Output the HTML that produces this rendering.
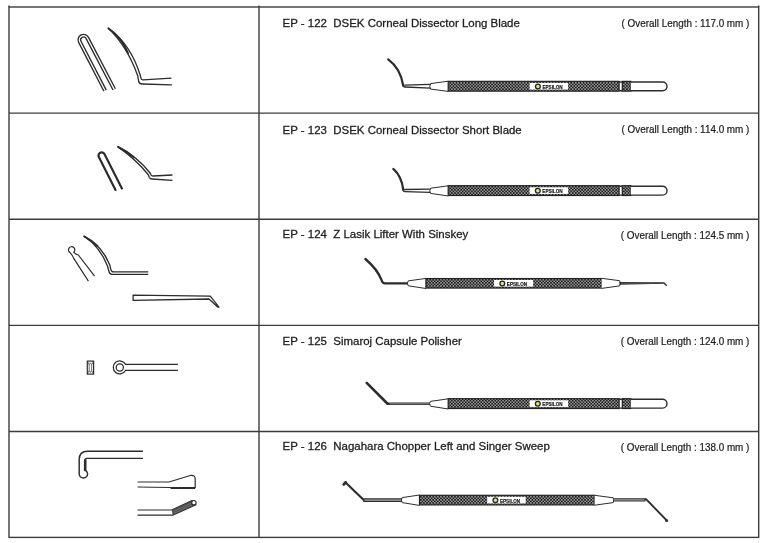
<!DOCTYPE html>
<html><head><meta charset="utf-8"><style>
html,body{margin:0;padding:0;background:#fff;}
body{width:768px;height:543px;overflow:hidden;position:relative}
svg{position:absolute;left:0;top:0;display:block;filter:blur(0.3px)}
text{font-family:"Liberation Sans",sans-serif}
</style></head><body>
<svg width="768" height="543" viewBox="0 0 768 543">
<defs>
<pattern id="kn" width="3.1" height="3.1" patternUnits="userSpaceOnUse">
<rect width="3.1" height="3.1" fill="#1e1e1e"/>
<rect x="0.175" y="0.175" width="1.2" height="1.2" fill="#e2e2e2"/>
<rect x="1.725" y="1.725" width="1.2" height="1.2" fill="#e2e2e2"/>
</pattern>
</defs>
<g stroke="#3c3c3c" stroke-width="1.4" fill="none">
<rect x="9" y="7.0" width="749.7" height="530.4"/>
<line x1="259" y1="5.6" x2="259" y2="537.4"/>
<line x1="9" y1="5.6" x2="9" y2="7"/>
<line x1="758.7" y1="5.6" x2="758.7" y2="7"/>
<line x1="9" y1="113.1" x2="758.7" y2="113.1"/>
<line x1="9" y1="219.2" x2="758.7" y2="219.2"/>
<line x1="9" y1="325.4" x2="758.7" y2="325.4"/>
<line x1="9" y1="431.5" x2="758.7" y2="431.5"/>
</g>
<g style="filter:grayscale(1)">
<text x="282.6" y="26.50" font-size="11.46" fill="#1e1e1e" stroke="#1e1e1e" stroke-width="0.3" xml:space="preserve">EP - 122  DSEK Corneal Dissector Long Blade</text>
<text transform="translate(749.4,26.80) scale(0.99,1)" font-size="10" fill="#1e1e1e" stroke="#1e1e1e" stroke-width="0.22" text-anchor="end" xml:space="preserve">( Overall Length : 117.0 mm )</text>
<text x="282.6" y="133.50" font-size="11.46" fill="#1e1e1e" stroke="#1e1e1e" stroke-width="0.3" xml:space="preserve">EP - 123  DSEK Corneal Dissector Short Blade</text>
<text transform="translate(749.4,132.80) scale(0.99,1)" font-size="10" fill="#1e1e1e" stroke="#1e1e1e" stroke-width="0.22" text-anchor="end" xml:space="preserve">( Overall Length : 114.0 mm )</text>
<text x="282.6" y="237.70" font-size="11.46" fill="#1e1e1e" stroke="#1e1e1e" stroke-width="0.3" xml:space="preserve">EP - 124  Z Lasik Lifter With Sinskey</text>
<text transform="translate(749.4,238.80) scale(0.99,1)" font-size="10" fill="#1e1e1e" stroke="#1e1e1e" stroke-width="0.22" text-anchor="end" xml:space="preserve">( Overall Length : 124.5 mm )</text>
<text x="282.6" y="345.10" font-size="11.46" fill="#1e1e1e" stroke="#1e1e1e" stroke-width="0.3" xml:space="preserve">EP - 125  Simaroj Capsule Polisher</text>
<text transform="translate(749.4,344.80) scale(0.99,1)" font-size="10" fill="#1e1e1e" stroke="#1e1e1e" stroke-width="0.22" text-anchor="end" xml:space="preserve">( Overall Length : 124.0 mm )</text>
<text x="282.6" y="449.60" font-size="11.46" fill="#1e1e1e" stroke="#1e1e1e" stroke-width="0.3" xml:space="preserve">EP - 126  Nagahara Chopper Left and Singer Sweep</text>
<text transform="translate(749.4,450.80) scale(0.99,1)" font-size="10" fill="#1e1e1e" stroke="#1e1e1e" stroke-width="0.22" text-anchor="end" xml:space="preserve">( Overall Length : 138.0 mm )</text>
</g>
<path d="M388.2,59.4 Q400.5,68.5 403.2,85.5" fill="none" stroke="#2c2c2c" stroke-width="2.2" stroke-linecap="round"/>
<path d="M402.6,84 Q402.8,87 405,87 L430.5,88.1 M404.2,85.2 L430.5,84.4" fill="none" stroke="#2c2c2c" stroke-width="1.3"/>
<path d="M448.30,81.20 L430.60,83.60 Q429.00,86.35 430.60,89.10 L448.30,91.40" fill="#fff" stroke="#2c2c2c" stroke-width="1"/>
<rect x="448.20" y="81.35" width="170.90" height="9.80" fill="url(#kn)" stroke="#222" stroke-width="1.2"/>
<rect x="622.30" y="81.35" width="8.50" height="9.80" fill="url(#kn)" stroke="#222" stroke-width="1.2"/>
<path d="M619.10,81.95 H622.30 M619.10,90.75 H622.30" fill="none" stroke="#2c2c2c" stroke-width="1.4"/>
<path d="M630.8,81.95 H662.60 A4.40,4.40 0 0 1 662.60,90.75 H630.8" fill="#fff" stroke="#2c2c2c" stroke-width="1.4"/>
<rect x="529.7" y="82.95" width="38.40" height="6.6" fill="#fff"/><circle cx="537.90" cy="86.45" r="2.4" fill="#e6e65c" stroke="#222230" stroke-width="1.3"/><text style="filter:grayscale(1)" x="542.40" y="88.75" font-weight="bold" font-size="5.4" fill="#111" stroke="#111" stroke-width="0.15" textLength="20.3" lengthAdjust="spacingAndGlyphs">EPSILON</text>
<path d="M393.3,168.9 Q401.5,176 403.2,189.5" fill="none" stroke="#2c2c2c" stroke-width="2.2" stroke-linecap="round"/>
<path d="M402.6,188.5 Q402.8,191.5 405,191.6 L430.5,192.4 M404.2,189.5 L430.5,189.2" fill="none" stroke="#2c2c2c" stroke-width="1.3"/>
<path d="M448.30,185.80 L430.60,188.20 Q429.00,190.80 430.60,193.40 L448.30,196.00" fill="#fff" stroke="#2c2c2c" stroke-width="1"/>
<rect x="448.20" y="185.70" width="170.90" height="9.80" fill="url(#kn)" stroke="#222" stroke-width="1.2"/>
<rect x="622.30" y="185.70" width="8.50" height="9.80" fill="url(#kn)" stroke="#222" stroke-width="1.2"/>
<path d="M619.10,186.30 H622.30 M619.10,195.10 H622.30" fill="none" stroke="#2c2c2c" stroke-width="1.4"/>
<path d="M630.8,186.30 H662.60 A4.40,4.40 0 0 1 662.60,195.10 H630.8" fill="#fff" stroke="#2c2c2c" stroke-width="1.4"/>
<rect x="529.6" y="187.30" width="38.50" height="6.6" fill="#fff"/><circle cx="537.80" cy="190.80" r="2.4" fill="#e6e65c" stroke="#222230" stroke-width="1.3"/><text style="filter:grayscale(1)" x="542.30" y="193.10" font-weight="bold" font-size="5.4" fill="#111" stroke="#111" stroke-width="0.15" textLength="20.3" lengthAdjust="spacingAndGlyphs">EPSILON</text>
<path d="M365.4,259 Q377.5,269.3 381.6,280.2 Q382.5,283.4 385,283.4 L408,283.4" fill="none" stroke="#2c2c2c" stroke-width="2.3" stroke-linecap="round"/>
<path d="M426.00,278.40 L408.20,280.90 Q406.60,283.35 408.20,285.80 L426.00,288.50" fill="#fff" stroke="#2c2c2c" stroke-width="1"/>
<rect x="425.90" y="278.55" width="175.80" height="9.50" fill="url(#kn)" stroke="#222" stroke-width="1.2"/>
<rect x="494.1" y="280.00" width="39.00" height="6.6" fill="#fff"/><circle cx="502.30" cy="283.50" r="2.4" fill="#e6e65c" stroke="#222230" stroke-width="1.3"/><text style="filter:grayscale(1)" x="506.80" y="285.80" font-weight="bold" font-size="5.4" fill="#111" stroke="#111" stroke-width="0.15" textLength="20.3" lengthAdjust="spacingAndGlyphs">EPSILON</text>
<path d="M601.60,278.30 L619.60,280.70 Q621.20,283.30 619.60,285.90 L601.60,288.40" fill="#fff" stroke="#2c2c2c" stroke-width="1"/>
<path d="M619.4,281.9 L664.3,282.3 L667.2,285.2 L666.2,286.2 L663.8,283.8 L619.4,284.7 Z" fill="#2c2c2c"/>
<path d="M621,283.3 L655,283.1" stroke="#777" stroke-width="0.6" fill="none"/>
<path d="M366.7,382.9 L387.6,403.75 L430.5,403.75" fill="none" stroke="#2c2c2c" stroke-width="2.6" stroke-linecap="round" stroke-linejoin="round"/>
<path d="M389.5,403.75 L430,403.75" fill="none" stroke="#999" stroke-width="0.9"/>
<path d="M448.30,398.80 L430.40,401.40 Q428.80,403.80 430.40,406.20 L448.30,409.00" fill="#fff" stroke="#2c2c2c" stroke-width="1"/>
<rect x="448.20" y="398.70" width="170.90" height="9.80" fill="url(#kn)" stroke="#222" stroke-width="1.2"/>
<rect x="622.30" y="398.70" width="8.50" height="9.80" fill="url(#kn)" stroke="#222" stroke-width="1.2"/>
<path d="M619.10,399.30 H622.30 M619.10,408.10 H622.30" fill="none" stroke="#2c2c2c" stroke-width="1.4"/>
<path d="M630.8,399.30 H662.60 A4.40,4.40 0 0 1 662.60,408.10 H630.8" fill="#fff" stroke="#2c2c2c" stroke-width="1.4"/>
<rect x="529.6" y="400.30" width="38.50" height="6.6" fill="#fff"/><circle cx="537.80" cy="403.80" r="2.4" fill="#e6e65c" stroke="#222230" stroke-width="1.3"/><text style="filter:grayscale(1)" x="542.30" y="406.10" font-weight="bold" font-size="5.4" fill="#111" stroke="#111" stroke-width="0.15" textLength="20.3" lengthAdjust="spacingAndGlyphs">EPSILON</text>
<path d="M343.8,484.4 L345.6,482.4" fill="none" stroke="#2c2c2c" stroke-width="2.8" stroke-linecap="round"/>
<path d="M345.6,482.4 L363.2,499.6" fill="none" stroke="#2c2c2c" stroke-width="2.1" stroke-linecap="round" stroke-linejoin="round"/>
<path d="M363.2,500.1 L402,500.1" fill="none" stroke="#2c2c2c" stroke-width="3.6"/>
<path d="M364.5,500.1 L402,500.1" fill="none" stroke="#b0b0b0" stroke-width="1.1"/>
<path d="M419.40,495.00 L402.20,497.60 Q400.60,500.10 402.20,502.60 L419.40,505.40" fill="#fff" stroke="#2c2c2c" stroke-width="1"/>
<rect x="419.50" y="495.30" width="175.00" height="9.60" fill="url(#kn)" stroke="#222" stroke-width="1.2"/>
<rect x="487.2" y="496.80" width="38.50" height="6.6" fill="#fff"/><circle cx="495.40" cy="500.30" r="2.4" fill="#e6e65c" stroke="#222230" stroke-width="1.3"/><text style="filter:grayscale(1)" x="499.90" y="502.60" font-weight="bold" font-size="5.4" fill="#111" stroke="#111" stroke-width="0.15" textLength="20.3" lengthAdjust="spacingAndGlyphs">EPSILON</text>
<path d="M594.60,495.30 L613.20,497.80 Q614.80,500.20 613.20,502.60 L594.60,505.20" fill="#fff" stroke="#2c2c2c" stroke-width="1"/>
<path d="M613,499.9 L645.5,499.9" fill="none" stroke="#2c2c2c" stroke-width="3.4"/>
<path d="M613.5,499.9 L644.5,499.9" fill="none" stroke="#a8a8a8" stroke-width="1.2"/>
<path d="M645,499.3 L646.3,499.3 L666.4,520.2" fill="none" stroke="#2c2c2c" stroke-width="1.9" stroke-linejoin="round"/>
<circle cx="666.6" cy="520.4" r="1.5" fill="#2c2c2c"/>
<path d="M105.1,90.7 L79.8,41.8 A4.2,4.2 0 0 1 87.3,38 L114.2,89.4" fill="none" stroke="#2c2c2c" stroke-width="4.0"/>
<path d="M105.1,90.7 L79.8,41.8 A4.2,4.2 0 0 1 87.3,38 L114.2,89.4" fill="none" stroke="#fff" stroke-width="1.3"/>
<path d="M108.3,28.3 Q127,45.9 137.8,76 L138.7,81.5 Q139.3,84 142,84 L171.9,84.8" fill="none" stroke="#2c2c2c" stroke-width="1.3"/>
<path d="M108.3,28.3 Q130.6,43.85 140.5,76 L141,78.6 Q141.4,79.8 143,79.8 L171.5,78.1" fill="none" stroke="#2c2c2c" stroke-width="1.3"/>
<path d="M108.3,28.3 Q122,38 128,53" fill="none" stroke="#2c2c2c" stroke-width="1.9" stroke-linecap="round"/>
<path d="M115.9,190.7 L98.85,157 A3.15,3.15 0 0 1 104.45,154.1 L122.3,189.3" fill="none" stroke="#2c2c2c" stroke-width="2.2"/>
<path d="M118,146.9 Q135.5,159 148.5,175 L149.3,177.5 Q150,179 152,179 L172.5,180.4" fill="none" stroke="#2c2c2c" stroke-width="1.3"/>
<path d="M118,146.9 Q137.8,157 150.5,173.5 L151,175 Q151.5,176 153,176 L172.5,175" fill="none" stroke="#2c2c2c" stroke-width="1.3"/>
<path d="M118,146.9 Q127,151.2 133.5,157" fill="none" stroke="#2c2c2c" stroke-width="1.9" stroke-linecap="round"/>
<path d="M88.4,281.1 L73.6,258.2 Q72.8,255.5 70.3,252.8 A3.2,3.2 0 1 1 73.8,252.3 Q75.5,254.3 78.3,255 L94.6,276.1" fill="none" stroke="#2c2c2c" stroke-width="1.2"/>
<path d="M84.1,236.3 Q100,247 107.5,266 L108.7,270.5 Q109.5,274.3 112,274.3 L148.3,274.3" fill="none" stroke="#2c2c2c" stroke-width="1.3"/>
<path d="M84.1,236.3 Q102,245.5 109.8,265 L110.8,269.3 Q111.4,271.9 113.5,271.9 L148.3,271.9" fill="none" stroke="#2c2c2c" stroke-width="1.3"/>
<path d="M84.1,236.3 Q92,240.5 97.5,246" fill="none" stroke="#2c2c2c" stroke-width="1.8" stroke-linecap="round"/>
<path d="M210.3,296.1 L133.1,295.2 L133.1,300.4 L209,299 L217.7,307.1 L219,307.1 Z" fill="#fff" stroke="#2c2c2c" stroke-width="1.3" stroke-linejoin="round"/>
<rect x="87.3" y="361.1" width="6.3" height="13" fill="#fff" stroke="#2c2c2c" stroke-width="1.2"/>
<path d="M90.45,362.8 L91.7,364.6 V370.6 L90.45,372.4 L89.2,370.6 V364.6 Z M87.3,361.1 L89.2,364.6 M93.6,361.1 L91.7,364.6 M87.3,374.1 L89.2,370.6 M93.6,374.1 L91.7,370.6" fill="none" stroke="#2c2c2c" stroke-width="0.7"/>
<path d="M177.9,364.4 L125.57,364.4 A6.5,6.5 0 1 0 125.6,370.3 L177.9,370.3" fill="none" stroke="#2c2c2c" stroke-width="1.25"/>
<circle cx="119.8" cy="367.4" r="3.6" fill="none" stroke="#2c2c2c" stroke-width="1.25"/>
<path d="M142.9,451.3 H87.5 Q79.2,451.3 79.2,459.6 V473.8 A4.2,4.2 0 0 0 87.6,473.8 Q87.4,471.6 85.6,470.6" fill="none" stroke="#2c2c2c" stroke-width="1.45"/>
<path d="M142.9,458.3 H86.8 Q85,458.3 85,460 V470.8" fill="none" stroke="#2c2c2c" stroke-width="1.25"/>
<rect x="83.9" y="459.3" width="2.6" height="11.8" fill="#2c2c2c"/>
<path d="M137.5,482 H169 L191.1,475.3 Q195.2,475 195.2,479 V487.5 H170 L137.5,487" fill="#fff" stroke="#2c2c2c" stroke-width="1.2" stroke-linejoin="round"/>
<path d="M170.5,488 H195.2" fill="none" stroke="#2c2c2c" stroke-width="2"/>
<path d="M137.5,510 H171.7 L192,500.5 L196,504.8 L172.7,515.1 H137.5" fill="none" stroke="#2c2c2c" stroke-width="1.2" stroke-linejoin="round"/>
<path d="M171.7,510 L192,500.5 L196,504.8 L172.7,515.1 Z" fill="#4a4a4a"/>
<path d="M173.5,511.5 L192.5,502.5 M174,513.3 L194,503.8" stroke="#9a9a9a" stroke-width="0.5" fill="none"/>
<circle cx="193.9" cy="502.7" r="2.2" fill="#fff" stroke="#2c2c2c" stroke-width="1.1"/>
</svg>
</body></html>
